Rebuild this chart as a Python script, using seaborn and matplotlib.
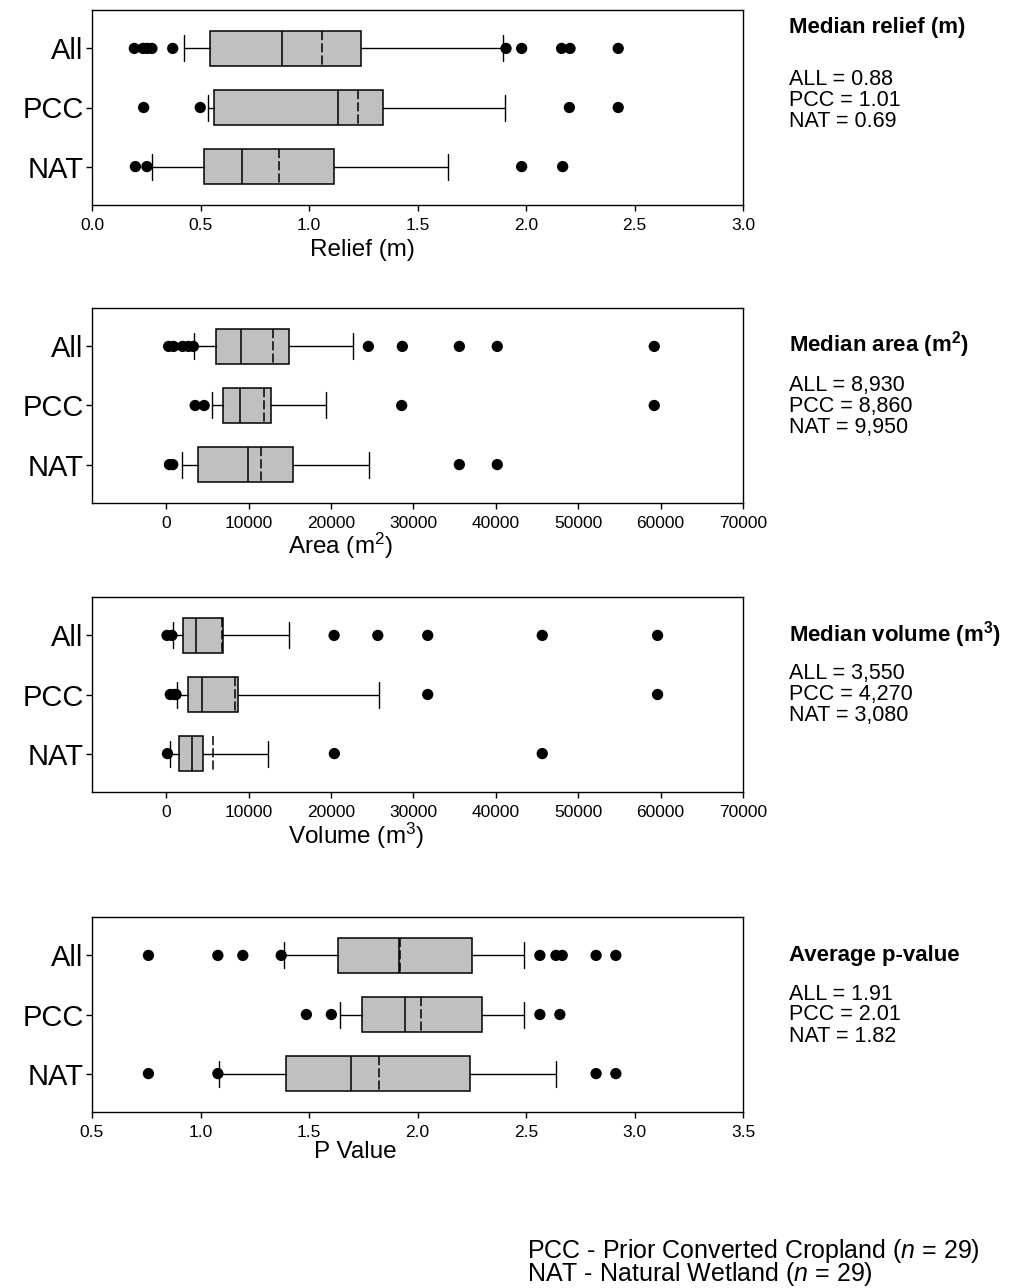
import matplotlib
matplotlib.use("Agg")
import matplotlib.pyplot as plt
import pandas as pd
import seaborn as sns

# %% data
groups = ["All", "PCC", "NAT"]

# Relief (m)
relief_whislo = [0.425, 0.536, 0.276]
relief_q1 = [0.545, 0.564, 0.514]
relief_med = [0.875, 1.135, 0.69]
relief_mean = [1.06, 1.224, 0.863]
relief_q3 = [1.24, 1.339, 1.117]
relief_whishi = [1.892, 1.905, 1.642]
relief_fliers = [[0.195, 0.235, 0.255, 0.276, 0.372, 1.908, 1.98, 2.164, 2.203, 2.425],
                 [0.238, 0.499, 2.2, 2.425],
                 [0.2, 0.253, 1.98, 2.169]]

# Area (m2)
area_whislo = [3320, 5540, 1900]
area_q1 = [6060, 6870, 3840]
area_med = [9060, 8980, 9980]
area_mean = [12940, 11890, 11520]
area_q3 = [14880, 12740, 15440]
area_whishi = [22640, 19370, 24660]
area_fliers = [[300, 900, 2000, 2700, 3300, 24540, 28660, 35580, 40180, 59230],
               [3520, 4610, 28580, 59230],
               [400, 800, 35580, 40180]]

# Volume (m3)
vol_whislo = [770, 1300, 520]
vol_q1 = [2060, 2590, 1580]
vol_med = [3640, 4400, 3110]
vol_mean = [6750, 8370, 5660]
vol_q3 = [6950, 8770, 4520]
vol_whishi = [14880, 25870, 12330]
vol_fliers = [[100, 700, 20380, 25680, 31740, 45640, 59630],
              [500, 1000, 1200, 31740, 59630],
              [160, 20410, 45640]]

# P value
p_whislo = [1.384, 1.641, 1.083]
p_q1 = [1.633, 1.744, 1.395]
p_med = [1.915, 1.941, 1.695]
p_mean = [1.918, 2.015, 1.823]
p_q3 = [2.252, 2.295, 2.244]
p_whishi = [2.492, 2.49, 2.638]
p_fliers = [[0.76, 1.08, 1.195, 1.372, 2.564, 2.638, 2.667, 2.823, 2.914],
            [1.488, 1.603, 2.564, 2.656],
            [0.76, 1.08, 2.823, 2.914]]

# side notes
relief_note = ["ALL = 0.88", "PCC = 1.01", "NAT = 0.69"]
area_note = ["ALL = 8,930", "PCC = 8,860", "NAT = 9,950"]
vol_note = ["ALL = 3,550", "PCC = 4,270", "NAT = 3,080"]
p_note = ["ALL = 1.91", "PCC = 2.01", "NAT = 1.82"]
footer = ["PCC - Prior Converted Cropland ($n$ = 29)",
          "NAT - Natural Wetland ($n$ = 29)"]

# %% style
sns.set_style("ticks")
plt.rcParams['font.family'] = ['Liberation Sans', 'DejaVu Sans']
plt.rcParams['mathtext.fontset'] = 'custom'
plt.rcParams['mathtext.rm'] = 'Liberation Sans'
plt.rcParams['mathtext.it'] = 'Liberation Sans:italic'
plt.rcParams['mathtext.bf'] = 'Liberation Sans:bold'
plt.rcParams['axes.linewidth'] = 1.0
plt.rcParams['axes.edgecolor'] = 'black'
plt.rcParams['text.color'] = 'black'
plt.rcParams['xtick.color'] = 'black'
plt.rcParams['ytick.color'] = 'black'
plt.rcParams['axes.labelcolor'] = 'black'

W, H = 1033, 1288
fig = plt.figure(figsize=(W / 100, H / 100), dpi=100)


def draw_panel(top_px, whislo, q1, med, mean, q3, whishi, fliers,
               xlim, xticks, fmt, xlabel, label_x, label_y_px):
    ax = fig.add_axes([92 / W, 1 - (top_px + 195) / H, 651 / W, 195 / H])
    stats = []
    for i in range(len(groups)):
        stats.append(dict(whislo=whislo[i], q1=q1[i], med=med[i], mean=mean[i],
                          q3=q3[i], whishi=whishi[i], fliers=[]))
    ax.bxp(stats, positions=[0, 1, 2], orientation='horizontal', widths=0.59,
           capwidths=0.44, patch_artist=True, showmeans=True, meanline=True,
           showfliers=False,
           boxprops=dict(facecolor='#c0c0c0', edgecolor='black', linewidth=1.1),
           medianprops=dict(color='black', linewidth=1.1),
           meanprops=dict(color='black', linewidth=1.1, linestyle=(0, (6, 2))),
           whiskerprops=dict(color='black', linewidth=1.0),
           capprops=dict(color='black', linewidth=1.0))
    fl = pd.DataFrame({"value": [v for f in fliers for v in f],
                       "pos": [i for i, f in enumerate(fliers) for _ in f]})
    sns.scatterplot(data=fl, x="value", y="pos", color="black", s=66,
                    edgecolor="none", ax=ax, legend=False, zorder=3)
    ax.set_ylim(2.65, -0.65)
    ax.set_yticks([0, 1, 2], groups, fontsize=21)
    ax.set_xlim(*xlim)
    ax.set_xticks(xticks, [fmt.format(t) for t in xticks], fontsize=12.5)
    ax.tick_params(axis='both', length=4.5, width=1.0, color='black')
    ax.tick_params(axis='y', pad=1.5)
    ax.tick_params(axis='x', pad=5)
    ax.set_ylabel("")
    ax.set_xlabel("")
    fig.text(92 / W + label_x * 651 / W, 1 - label_y_px / H, xlabel,
             fontsize=17.5, ha='center', va='center')
    return ax


draw_panel(10, relief_whislo, relief_q1, relief_med, relief_mean, relief_q3,
           relief_whishi, relief_fliers, (0, 3.0), [0, 0.5, 1.0, 1.5, 2.0, 2.5, 3.0],
           "{:.1f}", "Relief (m)", 0.416, 250)
big_ticks = [0, 10000, 20000, 30000, 40000, 50000, 60000, 70000]
draw_panel(308, area_whislo, area_q1, area_med, area_mean, area_q3,
           area_whishi, area_fliers, (-9000, 70000), big_ticks,
           "{:d}", "Area (m$^2$)", 0.381, 546)
draw_panel(597, vol_whislo, vol_q1, vol_med, vol_mean, vol_q3,
           vol_whishi, vol_fliers, (-9000, 70000), big_ticks,
           "{:d}", "Volume (m$^3$)", 0.405, 836)
draw_panel(917, p_whislo, p_q1, p_med, p_mean, p_q3, p_whishi, p_fliers,
           (0.5, 3.5), [0.5, 1.0, 1.5, 2.0, 2.5, 3.0, 3.5],
           "{:.1f}", "P Value", 0.405, 1152)

# side notes: bold title and a three-line block beneath
notes = [("Median relief (m)", 28, relief_note, 100.5),
         ("Median area (m$^\\mathbf{2}$)", 345, area_note, 406.5),
         ("Median volume (m$^\\mathbf{3}$)", 635, vol_note, 694.5),
         ("Average p-value", 955, p_note, 1015)]
for title, ty, lines, yc in notes:
    fig.text(789 / W, 1 - ty / H, title, fontsize=16, fontweight='bold',
             ha='left', va='center')
    fig.text(789 / W, 1 - yc / H, "\n".join(lines), fontsize=15.5,
             ha='left', va='center', linespacing=1.0)

fig.text(527 / W, 1 - 1262.5 / H, "\n".join(footer),
         fontsize=18, ha='left', va='center', linespacing=0.8)

fig.savefig("out.png", dpi=100)
